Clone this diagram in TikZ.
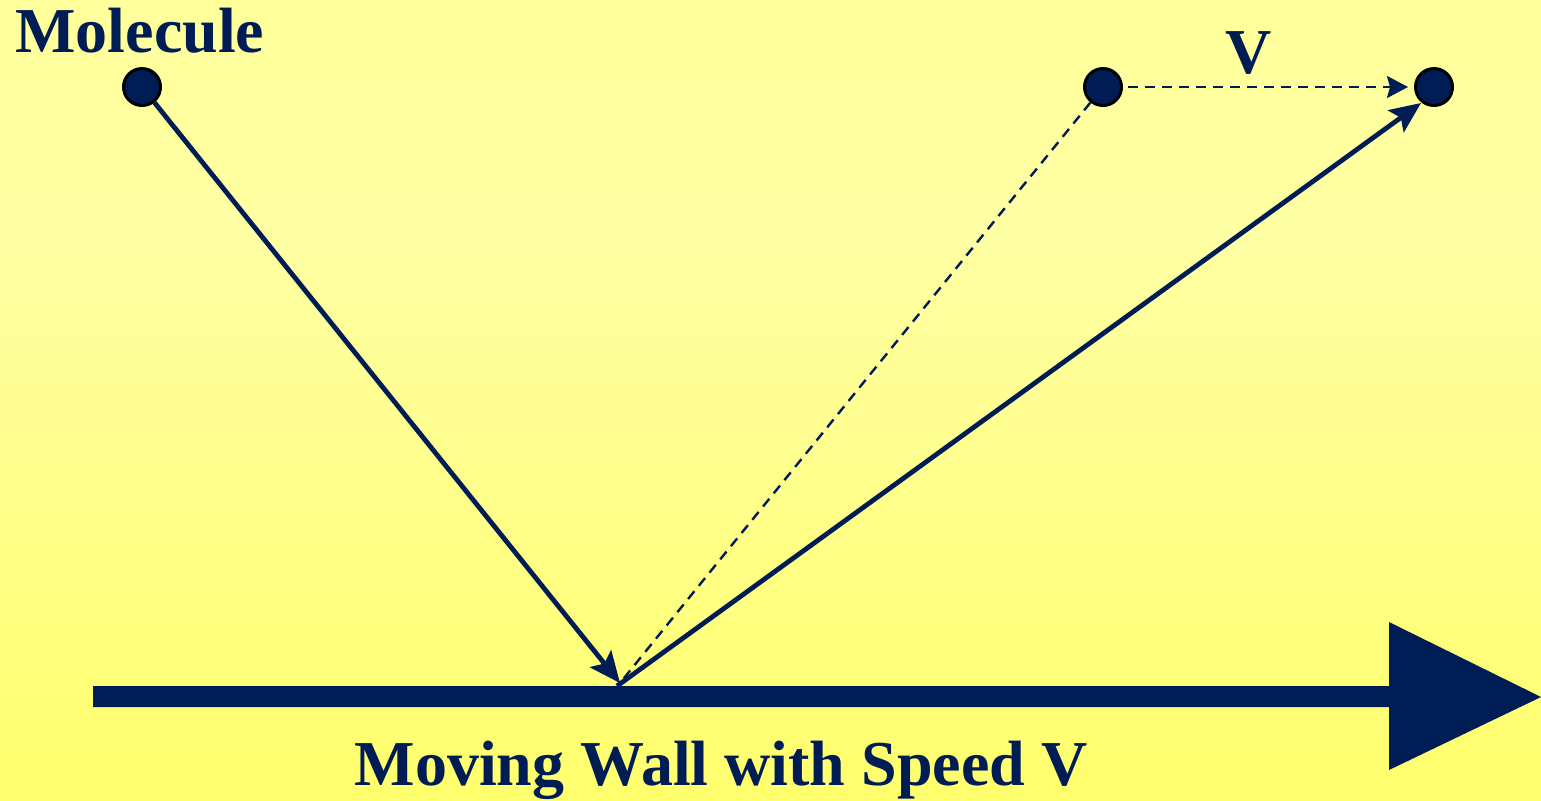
\documentclass[tikz,border=0pt]{standalone}
\usepackage{fontspec}
\setmainfont{Liberation Serif}
\usetikzlibrary{arrows.meta}
\definecolor{navy}{RGB}{0,28,85}
\definecolor{bgtop}{RGB}{255,255,140}
\definecolor{bgmid}{RGB}{255,255,164}
\definecolor{bgbot}{RGB}{255,255,70}
\pgfdeclareverticalshading{bgshade}{100bp}{color(0bp)=(bgbot); color(60bp)=(bgmid); color(100bp)=(bgtop)}
\begin{document}
\begin{tikzpicture}[x=0.5pt,y=-0.5pt,
  molecule/.style={circle,draw=black,line width=1.5pt,fill=navy,minimum size=18.5pt,inner sep=0pt},
  lbl/.style={text=navy,font=\fontsize{32pt}{38pt}\selectfont\bfseries,inner sep=0pt},
  solidpath/.style={draw=navy,line width=2.4pt},
  dashpath/.style={draw=navy,line width=1.2pt,dash pattern=on 5pt off 3.5pt},
  bigtip/.style={-{Stealth[length=15.5pt,width=13.5pt,inset=3pt]}},
  smalltip/.style={-{Stealth[length=10.5pt,width=11pt,inset=1.5pt]}}]
\useasboundingbox (0,0) rectangle (1541,800);
\shade[shading=bgshade] (0,0) rectangle (1541,800);
% wall
\fill[navy] (93,686) -- (1389,686) -- (1389,622) -- (1541,697) -- (1389,770) -- (1389,707) -- (93,707) -- cycle;
% molecules
\node[molecule] (m1) at (142,87) {};
\node[molecule] (m2) at (1103,87) {};
\node[molecule] (m3) at (1434,87) {};
\coordinate (hit) at (620,683);
\coordinate (start) at (617,686);
\coordinate (end) at (1421,103);
\coordinate (vs) at (1128,87);
\coordinate (vend) at (1408,87);
% paths
\draw[dashpath] (m2) -- (hit);
\draw[solidpath,bigtip] (m1) -- (hit);
\draw[solidpath,bigtip] (start) -- (end);
\draw[dashpath,smalltip] (vs) -- (vend);
% labels
\node[lbl,anchor=base west] (tm) at (15,52) {Molecule};
\node[lbl,anchor=base] (tv) at (1249,73) {V};
\node[lbl,anchor=base] (tw) at (721,785) {Moving Wall with Speed V};
\end{tikzpicture}
\end{document}
